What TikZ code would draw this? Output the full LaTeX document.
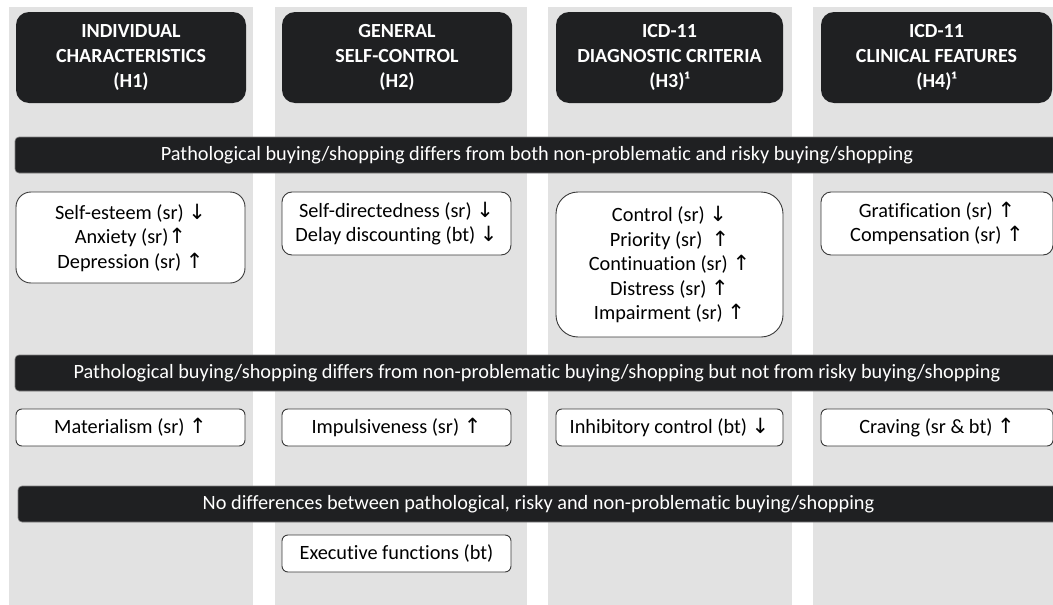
\documentclass[tikz,border=0pt]{standalone}
\usepackage{fontspec}
\setmainfont{Carlito}[Ligatures=NoCommon]
\newfontfamily\arrfont{DejaVu Sans}
\newcommand{\arU}{{\arrfont\fontsize{21}{21}\selectfont ↑}}
\newcommand{\arD}{{\arrfont\fontsize{21}{21}\selectfont ↓}}
\definecolor{dark}{HTML}{1F2022}
\definecolor{colgray}{HTML}{E2E2E2}
\definecolor{edge}{HTML}{3A3A3A}
\tikzset{
  colbg/.style={fill=colgray, inner sep=0, outer sep=0, anchor=north west, minimum height=610},
  hdr/.style={fill=dark, text=white, rounded corners=13, align=center, inner sep=0, outer sep=0,
    minimum height=91, font=\fontsize{20}{25}\selectfont\bfseries},
  band/.style={fill=dark, draw=gray, line width=0.6pt, text=white, rounded corners=4, inner sep=0, outer sep=0,
    minimum height=36},
  item/.style={fill=white, draw=edge, line width=0.9pt, align=center, inner sep=0, outer sep=0}
}
\begin{document}
\begin{tikzpicture}[x=1pt,y=-1pt, every node/.append style={font=\fontsize{20.3}{24.5}\selectfont}]
\useasboundingbox (0,0) rectangle (1053,605);
\clip (0,0) rectangle (1053,605);
% column backgrounds
\node[colbg, minimum width=244] (c1) at (9,7) {};
\node[colbg, minimum width=252] (c2) at (275,7) {};
\node[colbg, minimum width=244] (c3) at (548,7) {};
\node[colbg, minimum width=250] (c4) at (813,7) {};
% headers
\node[hdr, minimum width=230] (h1) at (131,57.5) {INDIVIDUAL\\CHARACTERISTICS\\(H1)};
\node[hdr, minimum width=230] (h2) at (397,57.5) {GENERAL\\SELF-CONTROL\\(H2)};
\node[hdr, minimum width=227] (h3) at (669.5,57.5) {ICD-11\\DIAGNOSTIC CRITERIA\\(H3)¹};
\node[hdr, minimum width=231] (h4) at (936.5,57.5) {ICD-11\\CLINICAL FEATURES\\(H4)¹};
% bands
\node[band, minimum width=1044] (b1) at (537,155) {Pathological buying/shopping differs from both non-problematic and risky buying/shopping};
\node[band, minimum width=1044] (b2) at (537,373) {Pathological buying/shopping differs from non-problematic buying/shopping but not from risky buying/shopping};
\node[band, minimum width=1041] (b3) at (538.5,504) {No differences between pathological, risky and non-problematic buying/shopping};
% row 1
\node[item, rounded corners=15, minimum width=229, minimum height=91] (r1a) at (130.5,237.5)
  {Self-esteem (sr) \arD\\Anxiety (sr)\arU\\Depression (sr) \arU};
\node[item, rounded corners=10, minimum width=229, minimum height=63] (r1b) at (396.5,223.5)
  {Self-directedness (sr) \arD\\Delay discounting (bt) \arD};
\node[item, rounded corners=22, minimum width=227, minimum height=145] (r1c) at (669.5,264.5)
  {Control (sr) \arD\\Priority (sr)\ \ \arU\\Continuation (sr) \arU\\Distress (sr) \arU\\Impairment (sr) \arU};
\node[item, rounded corners=10, minimum width=232, minimum height=63] (r1d) at (937,223.5)
  {Gratification (sr) \arU\\Compensation (sr) \arU};
% row 2
\node[item, rounded corners=6, minimum width=229, minimum height=37] (r2a) at (130.5,427.5) {Materialism (sr) \arU};
\node[item, rounded corners=6, minimum width=229, minimum height=37] (r2b) at (396.5,427.5) {Impulsiveness (sr) \arU};
\node[item, rounded corners=6, minimum width=227, minimum height=37] (r2c) at (669.5,427.5) {Inhibitory control (bt) \arD};
\node[item, rounded corners=6, minimum width=232, minimum height=37] (r2d) at (937,427.5) {Craving (sr \& bt) \arU};
% row 3
\node[item, rounded corners=6, minimum width=229, minimum height=37] (r3b) at (396.5,553.5) {Executive functions (bt)};
\end{tikzpicture}
\end{document}
